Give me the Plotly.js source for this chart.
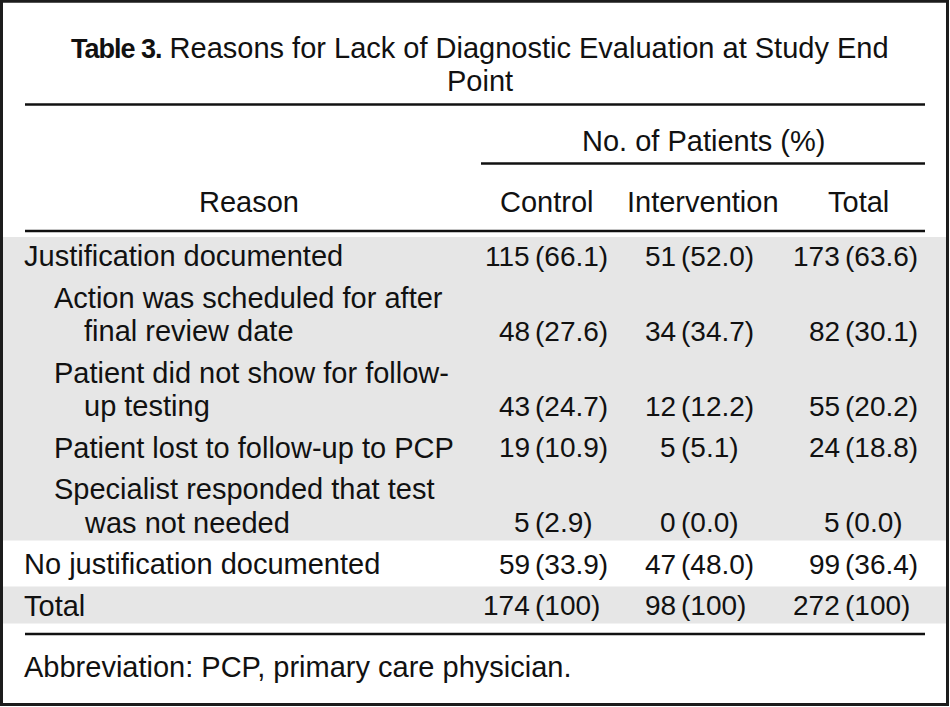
<!DOCTYPE html>
<html>
<head>
<meta charset="utf-8">
<script src="https://cdn.plot.ly/plotly-3.0.1.min.js"></script>
<style>
html, body { margin: 0; padding: 0; background: #ffffff; }
#chart { width: 950px; height: 707px; }
</style>
</head>
<body>
<div id="chart"></div>
<script>
// ---------------- DATA ----------------
const titleBold = "Table 3.";
const titleLines = ["Reasons for Lack of Diagnostic Evaluation at Study End", "Point"];
const spannerLabel = "No. of Patients (%)";
const stubHeader = "Reason";
const groups = ["Control", "Intervention", "Total"];
const reasons = [
  ["Justification documented"],
  ["Action was scheduled for after", "final review date"],
  ["Patient did not show for follow-", "up testing"],
  ["Patient lost to follow-up to PCP"],
  ["Specialist responded that test", "was not needed"],
  ["No justification documented"],
  ["Total"]
];
const reasonLevel = [0, 1, 1, 1, 1, 0, 0];
const controlN = [115, 48, 43, 19, 5, 59, 174];
const controlPct = ["66.1", "27.6", "24.7", "10.9", "2.9", "33.9", "100"];
const interventionN = [51, 34, 12, 5, 0, 47, 98];
const interventionPct = ["52.0", "34.7", "12.2", "5.1", "0.0", "48.0", "100"];
const totalN = [173, 82, 55, 24, 5, 99, 272];
const totalPct = ["63.6", "30.1", "20.2", "18.8", "0.0", "36.4", "100"];
const footnote = "Abbreviation: PCP, primary care physician.";

// ---------------- LAYOUT / STYLE ----------------
const FONT = "Liberation Sans, Arial, Helvetica, sans-serif";
const TXT = 29, NUM = 28, TITLE = 29;
const INK = "#111111";
const SHADE = "#e6e6e6";
const rowShaded = [true, true, true, true, true, false, true];
const G = {
  W: 950, H: 707,
  ruleL: 25, ruleR: 925, spanL: 481,
  titleX: 480, titleY: [48, 81],
  rule1: 104.5, spannerY: 141, rule2: 163.5, headY: 202, rule3: 231,
  stubX: 248.5, colCenter: [547, 703, 858],
  countRight: [530, 676, 840], pctLeft: [535, 681, 845],
  indentX: [24, 54], hangX: 84,
  firstLineY: 256, rowGap: 41.5, linePitch: 33.5,
  bandUp: 19, bandDown: 18,
  ruleBottom: 634, footY: 667
};

const counts = [controlN, interventionN, totalN];
const pcts = [controlPct, interventionPct, totalPct];

function ann(text, x, y, xanchor, size, extra) {
  return Object.assign({
    text: text, x: x, y: y, xref: "x", yref: "y",
    xanchor: xanchor, yanchor: "middle", showarrow: false,
    borderpad: 0, borderwidth: 0,
    font: { family: FONT, size: size, color: INK }
  }, extra || {});
}

const annotations = [];
const shapes = [];

// row geometry
const rowLines = [];
let y = G.firstLineY;
reasons.forEach((lines, i) => {
  if (i > 0) y += G.rowGap;
  const ys = [];
  lines.forEach((ln, j) => { if (j > 0) y += G.linePitch; ys.push(y); });
  rowLines.push(ys);
});

// shaded bands (merge consecutive shaded rows)
let i0 = 0;
while (i0 < reasons.length) {
  if (!rowShaded[i0]) { i0++; continue; }
  let i1 = i0;
  while (i1 + 1 < reasons.length && rowShaded[i1 + 1]) i1++;
  const top = rowLines[i0][0] - G.bandUp;
  const bot = rowLines[i1][rowLines[i1].length - 1] + G.bandDown;
  shapes.push({ type: "rect", xref: "x", yref: "y", x0: 3, x1: 946, y0: top, y1: bot,
    fillcolor: SHADE, line: { width: 0 }, layer: "below" });
  i0 = i1 + 1;
}

// rules
function rule(x0, x1, yy) {
  shapes.push({ type: "line", xref: "x", yref: "y", x0: x0, x1: x1, y0: yy, y1: yy,
    line: { color: INK, width: 2.6 } });
}
rule(G.ruleL, G.ruleR, G.rule1);
rule(G.spanL, G.ruleR, G.rule2);
rule(G.ruleL, G.ruleR, G.rule3);
rule(G.ruleL, G.ruleR, G.ruleBottom);

// outer frame
shapes.push({ type: "rect", xref: "x", yref: "y", x0: 1.5, x1: 947.5, y0: 1.2, y1: 704.5,
  line: { color: "#1c1c1c", width: 3 }, fillcolor: "rgba(0,0,0,0)" });

// title
annotations.push(ann(
  '<span style="font-size:27px;font-weight:bold;letter-spacing:-1px">' + titleBold + '</span> ' + titleLines[0],
  G.titleX, G.titleY[0], "center", TITLE));
annotations.push(ann(titleLines[1], G.titleX, G.titleY[1], "center", TITLE));

// headers
annotations.push(ann(spannerLabel, G.colCenter[1], G.spannerY, "center", TXT));
annotations.push(ann(stubHeader, G.stubX, G.headY, "center", TXT));
groups.forEach((g, c) => annotations.push(ann(g, G.colCenter[c], G.headY, "center", TXT)));

// body
reasons.forEach((lines, i) => {
  lines.forEach((ln, j) => {
    const x = j === 0 ? G.indentX[reasonLevel[i]] : G.hangX;
    annotations.push(ann(ln, x, rowLines[i][j], "left", TXT));
  });
  const vy = rowLines[i][rowLines[i].length - 1];
  for (let c = 0; c < 3; c++) {
    annotations.push(ann(String(counts[c][i]), G.countRight[c], vy, "right", NUM));
    annotations.push(ann("(" + pcts[c][i] + ")", G.pctLeft[c], vy, "left", NUM));
  }
});

// footnote
annotations.push(ann(footnote, G.indentX[0], G.footY, "left", TXT));

const layout = {
  width: G.W, height: G.H,
  margin: { l: 0, r: 0, t: 0, b: 0, pad: 0 },
  paper_bgcolor: "#ffffff", plot_bgcolor: "#ffffff",
  showlegend: false,
  xaxis: { range: [0, G.W], visible: false, fixedrange: true },
  yaxis: { range: [G.H, 0], visible: false, fixedrange: true },
  shapes: shapes,
  annotations: annotations
};

Plotly.newPlot("chart", [{ type: "scatter", x: [], y: [], hoverinfo: "skip", showlegend: false }],
  layout, { staticPlot: true, displayModeBar: false });
</script>
</body>
</html>
